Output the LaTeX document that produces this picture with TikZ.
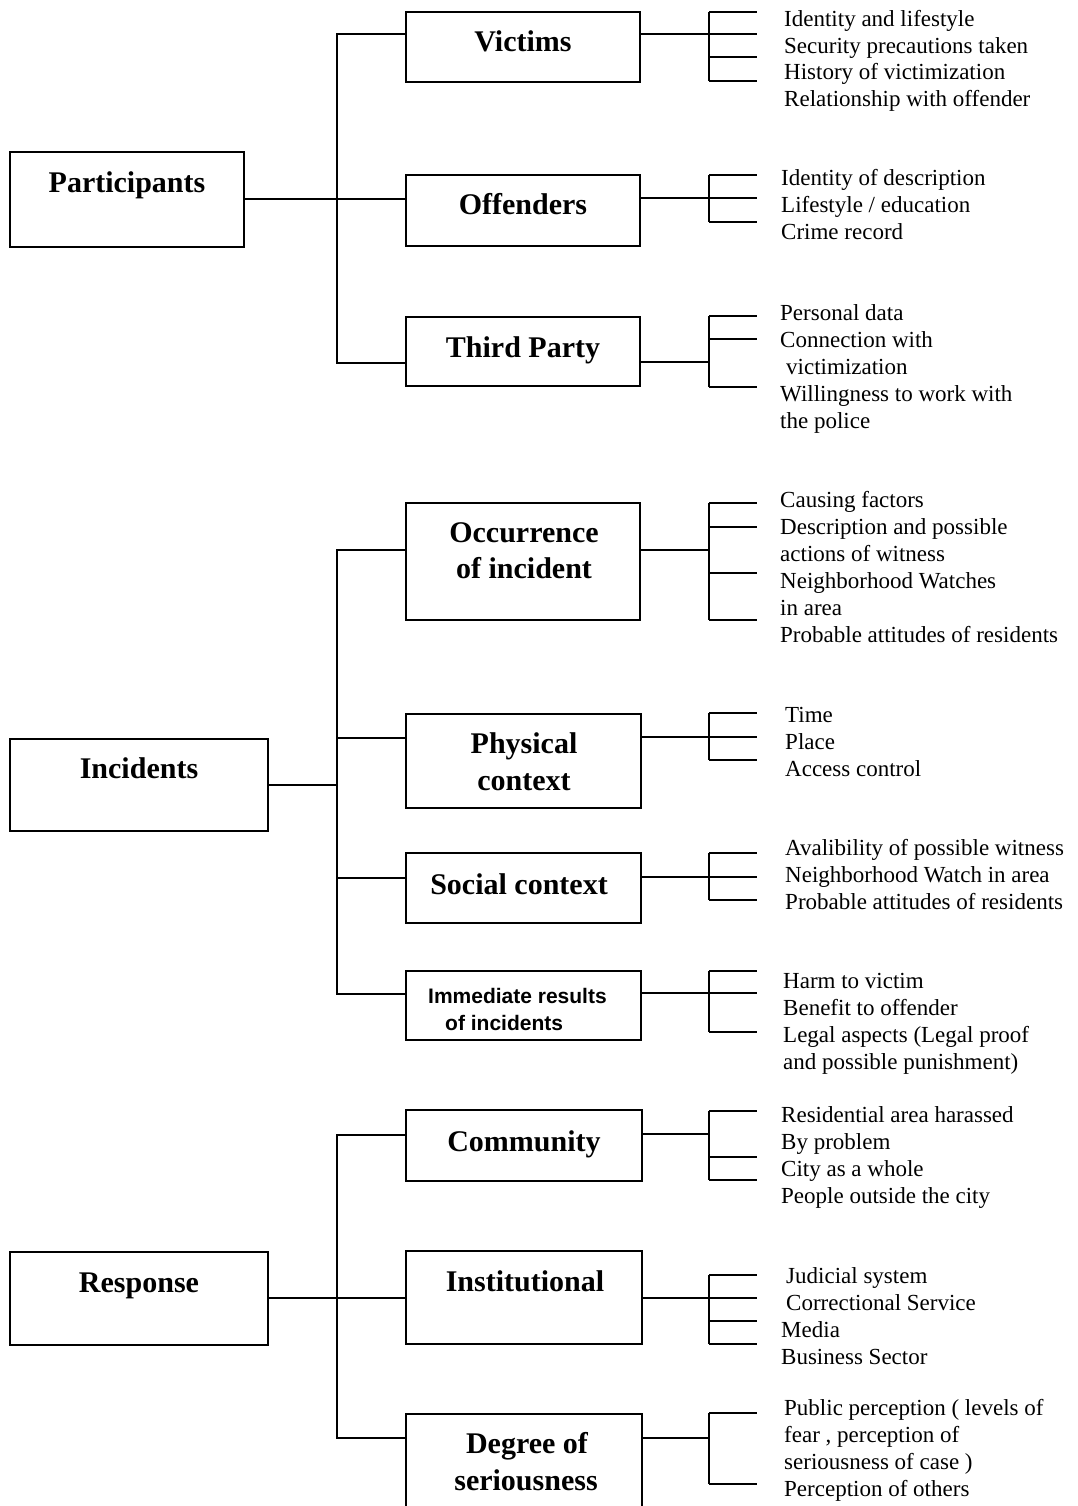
\documentclass[tikz,border=0pt]{standalone}
\usepackage{fontspec}
\setmainfont{Liberation Serif}
\newfontfamily\labelsans{Liberation Sans}
\usetikzlibrary{positioning,calc}

\begin{document}
\begin{tikzpicture}[
    x=1pt, y=-1pt,
    catbox/.style={
        rectangle,
        draw=black,
        line width=2pt,
        minimum width=234,
        minimum height=70,
        inner sep=0pt
    },
    mainbox/.style={
        catbox,
        minimum width=258,
        minimum height=93
    },
    boxtitle/.style={
        anchor=base,
        inner sep=0pt,
        font=\fontsize{30}{37}\selectfont\bfseries
    },
    smalltitle/.style={
        anchor=base west,
        inner sep=0pt,
        font=\fontsize{21}{26}\selectfont\labelsans\bfseries
    },
    itemtext/.style={
        anchor=base west,
        inner sep=0pt,
        font=\fontsize{23}{27}\selectfont
    },
    link/.style={line width=2pt, black}
]
\useasboundingbox (0,0) rectangle (1078,1506);
\clip (0,0) rectangle (1078,1506);

% --- Participants ---
\node[catbox, minimum height=95] (participants) at (127,199.5) {};
\node[boxtitle] (participants-t) at (127,193) {Participants};

\node[catbox] (victims) at (523,47) {};
\node[boxtitle] (victims-t) at (523,52) {Victims};
\node[catbox, minimum height=71] (offenders) at (523,210.5) {};
\node[boxtitle] (offenders-t) at (523,215) {Offenders};
\node[catbox, minimum height=69] (thirdparty) at (523,351.5) {};
\node[boxtitle] (thirdparty-t) at (523,357) {Third Party};

\coordinate (vic-l) at (406,34);
\coordinate (off-l) at (406,199);
\coordinate (thp-l) at (406,363);
\draw[link] (vic-l) -- ++(-69,0) |- (thp-l);
\draw[link] (participants.east |- off-l) -- (off-l);

% --- Incidents ---
\node[mainbox, minimum height=92] (incidents) at (139,785) {};
\node[boxtitle] (incidents-t) at (139,778) {Incidents};

\node[catbox, minimum height=117] (occurrence) at (523,561.5) {};
\node[boxtitle] (occurrence-t1) at (524,542) {Occurrence};
\node[boxtitle] (occurrence-t2) at (524,578) {of incident};
\node[catbox, minimum width=235, minimum height=94] (physical) at (523.5,761) {};
\node[boxtitle] (physical-t1) at (524,753) {Physical};
\node[boxtitle] (physical-t2) at (524,790) {context};
\node[catbox, minimum width=235] (social) at (523.5,888) {};
\node[boxtitle] (social-t) at (519,894) {Social context};
\node[catbox, minimum width=235, minimum height=69] (immediate) at (523.5,1005.5) {};
\node[smalltitle] (immediate-t1) at (428,1003) {Immediate results};
\node[smalltitle] (immediate-t2) at (445,1030) {of incidents};

\coordinate (occ-l) at (406,550);
\coordinate (phy-l) at (406,738);
\coordinate (soc-l) at (406,878);
\coordinate (imm-l) at (406,994);
\coordinate (inc-j) at (337,785);
\draw[link] (occ-l) -- ++(-69,0) |- (imm-l);
\draw[link] (phy-l) -- (phy-l -| inc-j);
\draw[link] (soc-l) -- (soc-l -| inc-j);
\draw[link] (incidents.east) -- (inc-j);

% --- Response ---
\node[mainbox] (response) at (139,1298.5) {};
\node[boxtitle] (response-t) at (139,1292) {Response};

\node[catbox, minimum width=236, minimum height=71] (community) at (524,1145.5) {};
\node[boxtitle] (community-t) at (524,1151) {Community};
\node[catbox, minimum width=236, minimum height=93] (institutional) at (524,1297.5) {};
\node[boxtitle] (institutional-t) at (525,1291) {Institutional};
\node[catbox, minimum width=236, minimum height=110] (degree) at (524,1469) {};
\node[boxtitle] (degree-t1) at (527,1453) {Degree of};
\node[boxtitle] (degree-t2) at (526,1490) {seriousness};

\coordinate (com-l) at (406,1135);
\coordinate (ins-l) at (406,1298);
\coordinate (deg-l) at (406,1438);
\draw[link] (com-l) -- ++(-69,0) |- (deg-l);
\draw[link] (response.east |- ins-l) -- (ins-l);

% --- Brackets on the right ---
\coordinate (vic-s) at (709,34);
\coordinate (off-s) at (709,198);
\coordinate (thp-s) at (709,362);
\coordinate (occ-s) at (709,550);
\coordinate (phy-s) at (709,737);
\coordinate (soc-s) at (709,877);
\coordinate (imm-s) at (709,993);
\coordinate (com-s) at (709,1134);
\coordinate (ins-s) at (709,1298);
\coordinate (deg-s) at (709,1438);

\draw[link] (victims.east |- vic-s) -- (vic-s);
\draw[link] (offenders.east |- off-s) -- (off-s);
\draw[link] (thirdparty.east |- thp-s) -- (thp-s);
\draw[link] (occurrence.east |- occ-s) -- (occ-s);
\draw[link] (physical.east |- phy-s) -- (phy-s);
\draw[link] (social.east |- soc-s) -- (soc-s);
\draw[link] (immediate.east |- imm-s) -- (imm-s);
\draw[link] (community.east |- com-s) -- (com-s);
\draw[link] (institutional.east |- ins-s) -- (ins-s);
\draw[link] (degree.east |- deg-s) -- (deg-s);

\foreach \y [count=\k] in {12,34,57,81} {
    \coordinate (vic-k\k) at (757,\y);
    \draw[link] (vic-s |- vic-k\k) -- (vic-k\k);
}
\draw[link] (vic-s |- vic-k1) -- (vic-s |- vic-k4);
\foreach \y [count=\k] in {175,198,222} {
    \coordinate (off-k\k) at (757,\y);
    \draw[link] (off-s |- off-k\k) -- (off-k\k);
}
\draw[link] (off-s |- off-k1) -- (off-s |- off-k3);
\foreach \y [count=\k] in {316,339,387} {
    \coordinate (thp-k\k) at (757,\y);
    \draw[link] (thp-s |- thp-k\k) -- (thp-k\k);
}
\draw[link] (thp-s |- thp-k1) -- (thp-s |- thp-k3);
\foreach \y [count=\k] in {503,527,573,620} {
    \coordinate (occ-k\k) at (757,\y);
    \draw[link] (occ-s |- occ-k\k) -- (occ-k\k);
}
\draw[link] (occ-s |- occ-k1) -- (occ-s |- occ-k4);
\foreach \y [count=\k] in {713,737,760} {
    \coordinate (phy-k\k) at (757,\y);
    \draw[link] (phy-s |- phy-k\k) -- (phy-k\k);
}
\draw[link] (phy-s |- phy-k1) -- (phy-s |- phy-k3);
\foreach \y [count=\k] in {853,877,900} {
    \coordinate (soc-k\k) at (757,\y);
    \draw[link] (soc-s |- soc-k\k) -- (soc-k\k);
}
\draw[link] (soc-s |- soc-k1) -- (soc-s |- soc-k3);
\foreach \y [count=\k] in {971,993,1032} {
    \coordinate (imm-k\k) at (757,\y);
    \draw[link] (imm-s |- imm-k\k) -- (imm-k\k);
}
\draw[link] (imm-s |- imm-k1) -- (imm-s |- imm-k3);
\foreach \y [count=\k] in {1111,1157,1180} {
    \coordinate (com-k\k) at (757,\y);
    \draw[link] (com-s |- com-k\k) -- (com-k\k);
}
\draw[link] (com-s |- com-k1) -- (com-s |- com-k3);
\foreach \y [count=\k] in {1275,1298,1321,1344} {
    \coordinate (ins-k\k) at (757,\y);
    \draw[link] (ins-s |- ins-k\k) -- (ins-k\k);
}
\draw[link] (ins-s |- ins-k1) -- (ins-s |- ins-k4);
\foreach \y [count=\k] in {1413,1484} {
    \coordinate (deg-k\k) at (757,\y);
    \draw[link] (deg-s |- deg-k\k) -- (deg-k\k);
}
\draw[link] (deg-s |- deg-k1) -- (deg-s |- deg-k2);

% --- Item lists ---
\foreach \txt [count=\i from 0] in {Identity and lifestyle, Security precautions taken,
    History of victimization, Relationship with offender}
    \node[itemtext] (vic-i\i) at (784,{27+26.5*\i}) {\txt};
\foreach \txt [count=\i from 0] in {Identity of description, Lifestyle / education, Crime record}
    \node[itemtext] (off-i\i) at (781,{186+27*\i}) {\txt};
\foreach \txt [count=\i from 0] in {Personal data, Connection with, \hspace{6pt}victimization,
    Willingness to work with, the police}
    \node[itemtext] (thp-i\i) at (780,{320+27*\i}) {\txt};
\foreach \txt [count=\i from 0] in {Causing factors, Description and possible, actions of witness,
    Neighborhood Watches, in area, Probable attitudes of residents}
    \node[itemtext] (occ-i\i) at (780,{507+27*\i}) {\txt};
\foreach \txt [count=\i from 0] in {Time, Place, Access control}
    \node[itemtext] (phy-i\i) at (785,{722+27*\i}) {\txt};
\foreach \txt [count=\i from 0] in {Avalibility of possible witness, Neighborhood Watch in area,
    Probable attitudes of residents}
    \node[itemtext] (soc-i\i) at (785,{855+27*\i}) {\txt};
\foreach \txt [count=\i from 0] in {Harm to victim, Benefit to offender,
    Legal aspects (Legal proof, and possible punishment)}
    \node[itemtext] (imm-i\i) at (783,{988+27*\i}) {\txt};
\foreach \txt [count=\i from 0] in {Residential area harassed, By problem, City as a whole,
    People outside the city}
    \node[itemtext] (com-i\i) at (781,{1122+27*\i}) {\txt};
\foreach \txt [count=\i from 0] in {\hspace{5pt}Judicial system, \hspace{5pt}Correctional Service,
    Media, Business Sector}
    \node[itemtext] (ins-i\i) at (781,{1283+27*\i}) {\txt};
\foreach \txt [count=\i from 0] in {Public perception ( levels of, {fear , perception of},
    seriousness of case ), Perception of others}
    \node[itemtext] (deg-i\i) at (784,{1415+27*\i}) {\txt};

\end{tikzpicture}
\end{document}
